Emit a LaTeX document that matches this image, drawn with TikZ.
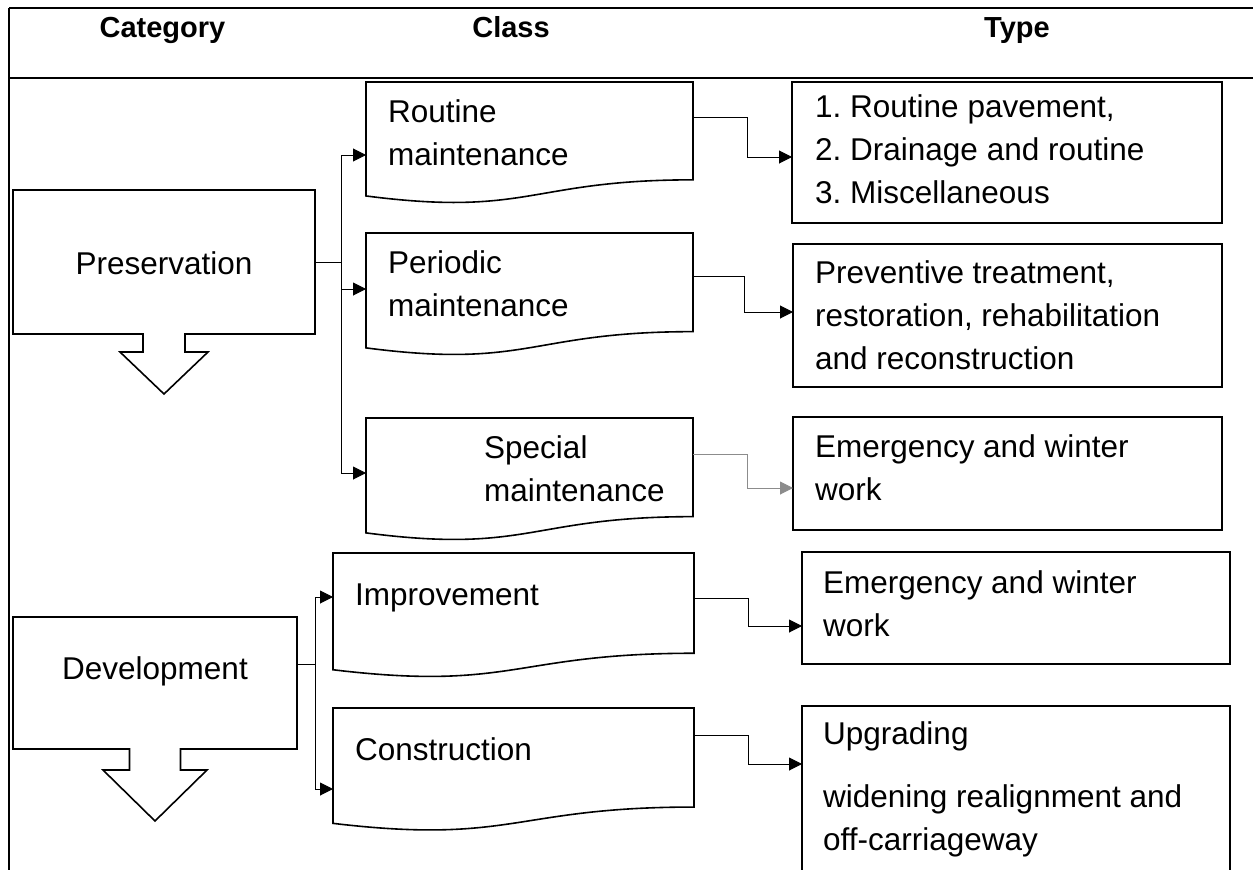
\documentclass[tikz,border=0pt]{standalone}
\usepackage{fontspec}
\setmainfont{Liberation Sans}
\usetikzlibrary{arrows.meta,calc}
\definecolor{connGray}{HTML}{8C8C8C}

\tikzset{
  frame/.style={line width=1.8pt},
  boxline/.style={draw, line width=1.6pt, line join=miter},
  area/.style={draw=none, inner sep=0pt, outer sep=0pt, anchor=north west},
  % multi-line texts are placed by the baseline of their last line
  txt/.style={inner sep=0pt, anchor=base west, align=left,
    font=\fontsize{31.5}{43}\selectfont\frenchspacing},
  head/.style={inner sep=0pt, anchor=base,
    font=\fontsize{29}{35}\selectfont\bfseries},
  conn/.style={line width=1pt, -{Triangle[length=13pt,width=13pt]}},
  grayconn/.style={conn, draw=connGray},
}

% document shape: flat top, wavy bottom
\newcommand\docoutline[1]{%
  \draw[boxline] (#1.north west) -- (#1.north east)
    -- ($(#1.north east)!0.802!(#1.south east)$)
    .. controls ($(#1.north)!0.802!(#1.south)$) and ($(#1.north)!1.1075!(#1.south)$)
    .. ($(#1.north west)!0.934!(#1.south west)$) -- cycle;}

% box with a down arrow below it: #2 stem half width, #3 stem length,
% #4 head half width, #5 tip distance
\newcommand\calloutdown[5]{%
  \draw[boxline] (#1.north west) -- (#1.north east) -- (#1.south east)
    -- ($(#1.south)+(#2,0)$) -- ($(#1.south)+(#2,#3)$) -- ($(#1.south)+(#4,#3)$)
    -- ($(#1.south)+(0,#5)$)
    -- ($(#1.south)+(-#4,#3)$) -- ($(#1.south)+(-#2,#3)$) -- ($(#1.south)+(-#2,0)$)
    -- (#1.south west) -- cycle;}

\begin{document}
\begin{tikzpicture}[x=1pt,y=-1pt]
\useasboundingbox (0,0) rectangle (1253,870);

% table rules
\draw[frame] (9,8) -- (1253,8);
\draw[frame] (9,78) -- (1253,78);
\draw[line width=1.2pt] (9,8) -- (9,870);

% column headings
\node[head] (hcat) at (162.5,37) {Category};
\node[head] (hcls) at (511,37) {Class};
\node[head] (htyp) at (1017,37) {Type};

% categories
\node[area, minimum width=302pt, minimum height=144pt] (pres) at (13,190) {};
\calloutdown{pres}{21}{18}{44}{60}
\node[txt, anchor=base] at (164,274) {Preservation};

\node[area, minimum width=284pt, minimum height=132pt] (dev) at (13,617) {};
\calloutdown{dev}{25.5}{21}{52}{72}
\node[txt, anchor=base] at (155,679) {Development};

% classes
\node[area, minimum width=327pt, minimum height=122pt] (routine) at (366,82) {};
\docoutline{routine}
\node[txt] at (388,165) {Routine\\maintenance};

\node[area, minimum width=327pt, minimum height=123pt] (periodic) at (366,233) {};
\docoutline{periodic}
\node[txt] at (388,316) {Periodic\\maintenance};

\node[area, minimum width=327pt, minimum height=123pt] (special) at (366,418) {};
\docoutline{special}
\node[txt] at (484,501) {Special\\maintenance};

\node[area, minimum width=361pt, minimum height=125pt] (improve) at (333,553) {};
\docoutline{improve}
\node[txt] at (355,605) {Improvement};

\node[area, minimum width=361pt, minimum height=123.5pt] (construct) at (333,708) {};
\docoutline{construct}
\node[txt] at (355,760) {Construction};

% types
\node[area, boxline, minimum width=430pt, minimum height=141pt] (t1) at (792,82) {};
\node[txt] at (815,203) {1. Routine pavement,\\2. Drainage and routine\\3. Miscellaneous};

\node[area, boxline, minimum width=429pt, minimum height=143pt] (t2) at (793,244) {};
\node[txt] at (815,369) {Preventive treatment,\\restoration, rehabilitation\\and reconstruction};

\node[area, boxline, minimum width=429pt, minimum height=113pt] (t3) at (793,417) {};
\node[txt] at (815,500) {Emergency and winter\\work};

\node[area, boxline, minimum width=428pt, minimum height=112pt] (t4) at (802,552) {};
\node[txt] at (823,636) {Emergency and winter\\work};

\node[area, minimum width=428pt, minimum height=172pt] (t5) at (802,706) {};
\draw[boxline] (t5.south west) -- (t5.north west) -- (t5.north east) -- (t5.south east);
\node[txt] at (823,850) {Upgrading\\[20pt]widening realignment and\\off-carriageway};

% category to class connectors
\draw[conn] (pres.east) -- ++(26,0) |- (routine.west |- 0,155);
\draw[conn] (pres.east) -- ++(26,0) |- (periodic.west |- 0,289);
\draw[conn] (pres.east) -- ++(26,0) |- (special.west |- 0,473);

\draw[conn] (dev.east |- 0,664) -- ++(18,0) |- (improve.west |- 0,597);
\draw[conn] (dev.east |- 0,664) -- ++(18,0) |- (construct.west |- 0,789);

% class to type connectors
\draw[conn] (routine.east |- 0,117) -- ++(54,0) |- (t1.west |- 0,157);
\draw[conn] (periodic.east |- 0,276) -- ++(51,0) |- (t2.west |- 0,312);
\draw[grayconn] (special.east |- 0,454) -- ++(54,0) |- (t3.west |- 0,488);
\draw[conn] (improve.east |- 0,598) -- ++(54,0) |- (t4.west |- 0,626);
\draw[conn] (construct.east |- 0,735) -- ++(54,0) |- (t5.west |- 0,764);
\end{tikzpicture}
\end{document}
